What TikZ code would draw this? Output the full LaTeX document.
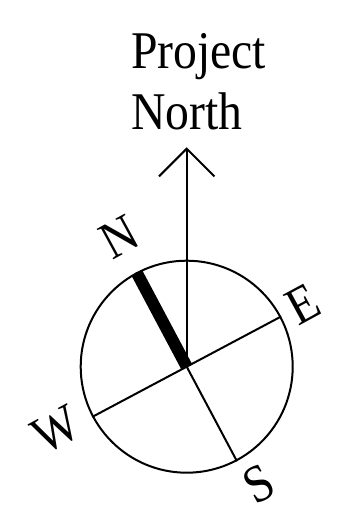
\documentclass[tikz,border=0pt]{standalone}
\usepackage{fontspec}
\setmainfont{Liberation Serif}[FakeStretch=0.9]
\usetikzlibrary{arrows.meta}

\begin{document}
\begin{tikzpicture}[x=1pt, y=1pt, line width=2pt, every node/.style={font=\fontsize{53}{61}\selectfont, inner sep=0pt}]
\useasboundingbox (0,0) rectangle (348,509);
\coordinate (centre) at (186.7,142.3);
\coordinate (tip) at (186.7,361.7);
\node[draw,circle,minimum size=212pt] (dial) at (centre) {};
\node[align=left,anchor=base west] (title) at (130,379.7) {Project\\North};
\node[rotate=28.5] (north) at (119,272.3) {N};
\node[rotate=28.5] (east) at (303.3,205) {E};
\node[rotate=28.5] (south) at (259,25) {S};
\node[rotate=28.5] (west) at (55.7,79) {W};
% needle and cross lines
\draw (dial.208.5) -- (dial.28.5);
\draw (dial.118.5) -- (dial.298.5);
\begin{scope}
\clip (centre) circle[radius=106];
\draw[line width=12pt] (centre) -- (dial.118.5);
\end{scope}
\draw[-{Straight Barb[length=27.7pt,width=55.4pt]}] (centre) -- (tip);
\end{tikzpicture}
\end{document}
